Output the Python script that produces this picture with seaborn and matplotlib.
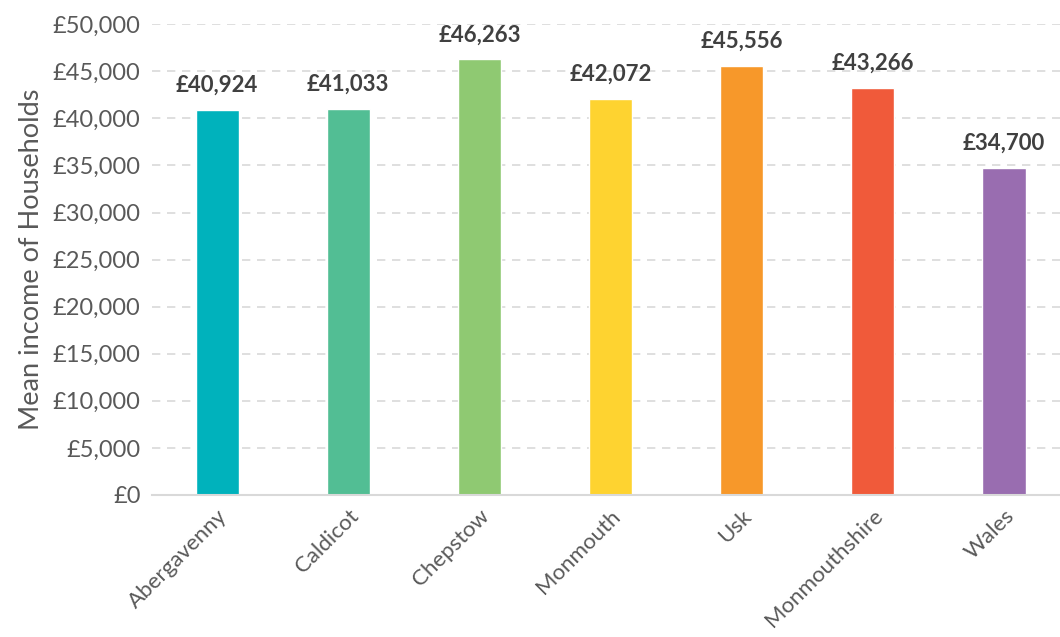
import pandas as pd
import matplotlib.pyplot as plt
import seaborn as sns
from matplotlib.ticker import FuncFormatter

areas = ['Abergavenny', 'Caldicot', 'Chepstow', 'Monmouth', 'Usk', 'Monmouthshire', 'Wales']
income = [40924, 41033, 46263, 42072, 45556, 43266, 34700]
colours = ['#00B2BC', '#52BE94', '#8FC972', '#FED330', '#F7982A', '#F05A3A', '#996DB0']

df = pd.DataFrame({'area': areas, 'income': income})

sns.set_style('white')
plt.rcParams['font.family'] = ['Lato', 'DejaVu Sans']

fig = plt.figure(figsize=(10.6, 6.37), dpi=100)
ax = fig.add_axes([0.143, 0.223, 0.866, 0.739])
sns.barplot(data=df, x='area', y='income', hue='area', palette=colours,
            width=0.33, legend=False, ax=ax, saturation=1)

ax.set_ylim(0, 50000)
ax.set_xlim(-0.5, 6.5)
ax.set_yticks(range(0, 50001, 5000))
ax.yaxis.set_major_formatter(FuncFormatter(lambda v, p: f'£{v:,.0f}'))
ax.grid(axis='y', color='#d9d9d9', linestyle=(0, (5, 4)), linewidth=1.2)
ax.set_axisbelow(True)
for s in ['top', 'right', 'left']:
    ax.spines[s].set_visible(False)
ax.spines['bottom'].set_color('#d9d9d9')
ax.spines['bottom'].set_linewidth(1.5)

ax.tick_params(axis='y', labelsize=17, colors='#595959', length=0, pad=8)
ax.tick_params(axis='x', labelsize=16, colors='#595959', length=0, pad=8)
plt.setp(ax.get_xticklabels(), rotation=45, ha='right', rotation_mode='anchor')
ax.set_xlabel('')
ax.set_ylabel('Mean income of Households', fontsize=19.5, color='#595959', labelpad=6)

for i, v in enumerate(income):
    ax.text(i, v + 1500, f'£{v:,}', ha='center', va='bottom', fontsize=16,
            fontweight='bold', color='#404040')

fig.savefig('out.png', dpi=100)
